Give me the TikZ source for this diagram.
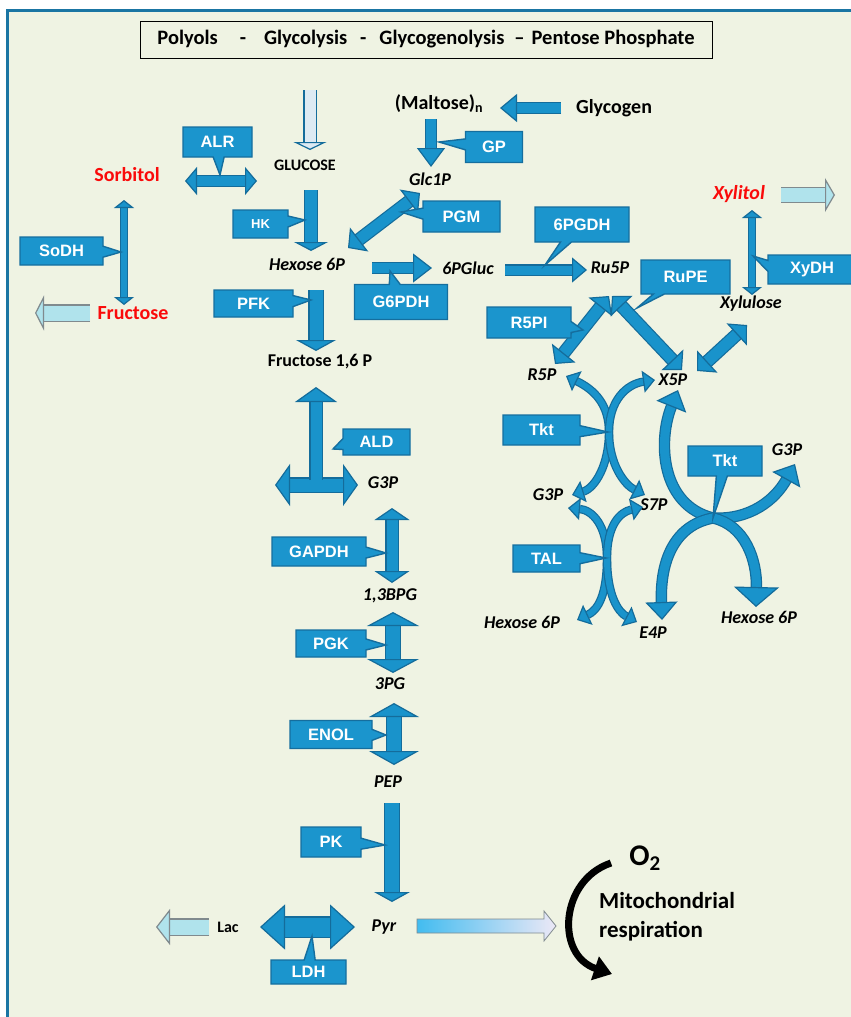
\documentclass[tikz,border=0pt]{standalone}
\usepackage{fontspec}
\setmainfont{Carlito}
\newfontfamily\arialfont{Liberation Sans}
\usetikzlibrary{shapes.callouts}
\usetikzlibrary{arrows.meta}
\usetikzlibrary{calc}
\definecolor{bgpanel}{RGB}{239,243,227}
\definecolor{framec}{RGB}{26,117,163}
\definecolor{arrowfill}{RGB}{25,147,203}
\definecolor{arrowedge}{RGB}{20,108,155}
\definecolor{boxfill}{RGB}{27,149,205}
\definecolor{boxedge}{RGB}{21,110,158}
\definecolor{polyred}{RGB}{250,10,10}
\definecolor{inputfill}{RGB}{221,234,243}
\definecolor{outfill}{RGB}{176,227,236}
\definecolor{outedge}{RGB}{128,138,142}
\definecolor{gradl}{RGB}{66,188,240}
\definecolor{gradr}{RGB}{236,232,246}

\begin{document}
\begin{tikzpicture}[x=1pt, y=-1pt,
  met/.style={font=\fontsize{18}{20}\selectfont\bfseries\itshape, inner sep=1pt},
  sugar/.style={font=\fontsize{20}{22}\selectfont\bfseries, inner sep=1pt},
  polyol/.style={sugar, text=polyred},
  enz/.style={rectangle callout, draw=boxedge, fill=boxfill, line width=1.4pt, text=white,
    font=\arialfont\bfseries\fontsize{16.5}{18}\selectfont, inner sep=0pt, callout pointer width=11pt},
  barrow/.style n args={5}{draw=#4, double=#5, line width=1.2pt, double distance=#1,
    -{Triangle[width=#2, length=#3, fill=#5, color=#4, line width=1.2pt]}},
  bbarrow/.style n args={5}{draw=#4, double=#5, line width=1.2pt, double distance=#1,
    {Triangle[width=#2, length=#3, fill=#5, color=#4, line width=1.2pt]}-{Triangle[width=#2, length=#3, fill=#5, color=#4, line width=1.2pt]}},
  blk/.style n args={3}{barrow={#1}{#2}{#3}{arrowedge}{arrowfill}},
  dblk/.style n args={3}{bbarrow={#1}{#2}{#3}{arrowedge}{arrowfill}},
  outarr/.style n args={3}{barrow={#1}{#2}{#3}{outedge}{outfill}},
  crv/.style={blk={6pt}{22pt}{12pt}},
  bigcrv/.style={blk={9pt}{32pt}{18pt}}
  ]
  \useasboundingbox (0,0) rectangle (851,1017);
  % panel
  \fill[white] (0,0) rectangle (851,1017);
  \fill[bgpanel] (7.5,10.5) rectangle (851,1017);
  \draw[framec, line width=3pt] (7.5,1017) -- (7.5,10.5) -- (851,10.5);
  \node[draw, line width=1pt, minimum width=572pt, minimum height=37pt, inner sep=0pt,
    font=\fontsize{20.5}{22}\selectfont\bfseries] (title) at (426,39.5)
    {Polyols\hspace{22pt}-\hspace{18pt}Glycolysis\hspace{13pt}-\hspace{13pt}Glycogenolysis\hspace{10pt}--\hspace{7pt}Pentose Phosphate};

  % metabolites
  \node[font=\fontsize{16}{18}\selectfont\bfseries, inner sep=1pt] (glucose) at (305,165) {GLUCOSE};
  \node[met] (hexa) at (307,264) {Hexose 6P};
  \node[met] (glcp) at (430,179) {Glc1P};
  \node[sugar] (maltose) at (439,104) {(Maltose)\textsubscript{n}};
  \node[sugar] (glycogen) at (614,108) {Glycogen};
  \node[met] (gluc) at (468,268) {6PGluc};
  \node[met] (ru5p) at (610,268) {Ru5P};
  \node[polyol] (sorbitol) at (127,175) {Sorbitol};
  \node[polyol] (fructose) at (133,313) {Fructose};
  \node[polyol, font=\fontsize{20}{22}\selectfont\bfseries\itshape] (xylitol) at (739,194) {Xylitol};
  \node[met] (xylulose) at (751,304) {Xylulose};
  \node[met] (r5p) at (542,375) {R5P};
  \node[met] (x5p) at (673,380) {X5P};
  \node[met] (g3pa) at (548,495) {G3P};
  \node[met] (s7p) at (654,505) {S7P};
  \node[met] (hexb) at (522,622) {Hexose 6P};
  \node[met] (e4p) at (653,633) {E4P};
  \node[met] (g3pb) at (787,450) {G3P};
  \node[met] (hexc) at (759,617) {Hexose 6P};
  \node[font=\fontsize{18}{20}\selectfont\bfseries, inner sep=1pt] (fbp) at (320,362) {Fructose 1,6 P};
  \node[met] (g3p) at (383,483) {G3P};
  \node[met] (bpg) at (390,596) {1,3BPG};
  \node[met] (pg3) at (390,684) {3PG};
  \node[met] (pep) at (388,782) {PEP};
  \node[met] (pyr) at (384,927) {Pyr};
  \node[font=\fontsize{16}{18}\selectfont\bfseries, inner sep=1pt] (lac) at (228,927) {Lac};
  \node[font=\fontsize{30}{32}\selectfont\bfseries, inner sep=1pt] (o2) at (645,858) {O\textsubscript{2}};
  \node[font=\fontsize{23}{29}\selectfont\bfseries, anchor=west, align=left, inner sep=0pt] (mito) at (599,917) {Mitochondrial\\respiration};

  % centres of the transketolase / transaldolase crossings
  \coordinate (tktl) at (609,432);
  \coordinate (talc) at (607,558);
  \coordinate (tktr) at (713,518);

  % upper part
  \draw[barrow={11pt}{33pt}{8pt}{arrowedge}{inputfill}] ($(glucose)+(5,-75)$) -- ($(glucose)+(5,-15)$);
  \draw[dblk={10pt}{28pt}{12pt}] ($(sorbitol)+(58,6)$) -- ($(glucose)+(-48,16)$);
  \draw[dblk={6pt}{20pt}{8pt}] ($(sorbitol)+(-3,25)$) -- ($(fructose)+(-9,-8)$);
  \draw[outarr={15pt}{35pt}{9pt}] ($(fructose)+(-43,0)$) -- ($(fructose)+(-98,0)$);
  \draw[blk={12pt}{34pt}{9pt}] ($(glucose)+(6,25)$) -- ($(hexa)+(4,-13)$);
  \draw[dblk={11pt}{30pt}{14pt}] ($(hexa)+(41,-16)$) -- ($(glcp)+(-10,14)$);
  \draw[blk={10pt}{28pt}{19pt}] ($(maltose)+(-8,15)$) -- ($(glcp)+(1,-12)$);
  \draw[blk={10pt}{28pt}{17pt}] ($(glycogen)+(-53,0)$) -- ($(maltose)+(61,4)$);
  \draw[blk={10pt}{29pt}{19pt}] ($(hexa)+(65,4)$) -- ($(gluc)+(-36,0)$);
  \draw[blk={9pt}{25pt}{15pt}] ($(gluc)+(37,2)$) -- ($(ru5p)+(-23,2)$);
  \draw[dblk={6pt}{20pt}{8pt}] ($(xylitol)+(13,16)$) -- ($(xylulose)+(1,-9)$);
  \draw[outarr={14pt}{34pt}{10pt}] ($(xylitol)+(42,1)$) -- ($(xylitol)+(96,1)$);
  \draw[dblk={11pt}{30pt}{14pt}] ($(ru5p)+(-1,28)$) -- ($(r5p)+(13,-11)$);
  \draw[dblk={11pt}{30pt}{14pt}] ($(ru5p)+(2,28)$) -- ($(x5p)+(9,-10)$);
  \draw[dblk={11pt}{30pt}{14pt}] ($(xylulose)+(-4,21)$) -- ($(x5p)+(24,-9)$);

  % pentose phosphate crossings
  \draw[crv] (tktl) .. controls +(0,-27) and +(29,14) .. ($(r5p)+(24,1)$);
  \draw[crv] (tktl) .. controls +(0,-32) and +(-28,4) .. ($(x5p)+(-18,0)$);
  \draw[crv] (tktl) .. controls +(0,33) and +(23,-7) .. ($(g3pa)+(24,0)$);
  \draw[crv] (tktl) .. controls +(0,33) and +(-20,-10) .. ($(s7p)+(-9,-10)$);
  \draw[crv] (talc) .. controls +(0,-33) and +(24,2) .. ($(g3pa)+(20,13)$);
  \draw[crv] (talc) .. controls +(0,-33) and +(-23,5) .. ($(s7p)+(-11,2)$);
  \draw[crv] (talc) .. controls +(0,37) and +(21,-10) .. ($(hexb)+(55,-2)$);
  \draw[crv] (talc) .. controls +(0,37) and +(-19,-10) .. ($(e4p)+(-16,-11)$);
  \draw[bigcrv] (tktr) .. controls +(-53,-13) and +(-20,50) .. ($(x5p)+(5,10)$);
  \draw[bigcrv] (tktr) .. controls +(37,2) and +(-20,36) .. ($(g3pb)+(8,14)$);
  \draw[bigcrv] (tktr) .. controls +(-38,7) and +(-2,-60) .. ($(e4p)+(9,-13)$);
  \draw[blk={9pt}{45pt}{20pt}] (tktr) .. controls +(32,7) and +(1,-47) .. ($(hexc)+(-3,-10)$);

  % glycolysis
  \draw[blk={13pt}{40pt}{11pt}] ($(hexa)+(9,26)$) -- ($(fbp)+(-4,-11)$);
  \draw[dblk={13pt}{42pt}{15pt}] ($(g3p)+(-108,2)$) -- ($(g3p)+(-25,2)$);
  \draw[blk={11pt}{42pt}{15pt}] ($(g3p)+(-67,-3)$) -- ($(fbp)+(-4,25)$);
  \draw[dblk={11pt}{35pt}{12pt}] ($(g3p)+(9,25)$) -- ($(bpg)+(2,-13)$);
  \draw[dblk={14pt}{52pt}{14pt}] ($(bpg)+(3,16)$) -- ($(pg3)+(3,-11)$);
  \draw[dblk={14pt}{50pt}{14pt}] ($(pg3)+(4,19)$) -- ($(pep)+(6,-17)$);
  \draw[blk={14pt}{36pt}{10pt}] ($(pep)+(4,21)$) -- ($(pyr)+(8,-25)$);
  \draw[dblk={19pt}{45pt}{25pt}] ($(lac)+(32,0)$) -- ($(pyr)+(-29,0)$);
  \draw[outarr={15pt}{36pt}{14pt}] ($(lac)+(-19,0)$) -- ($(lac)+(-72,0)$);
  \shade[left color=gradl, right color=gradr, draw=outedge, line width=0.8pt]
    ($(pyr)+(33,-8)$) -- ++(127,0) -- ++(0,-8) -- ++(12,15) -- ++(-12,15) -- ++(0,-8) -- ++(-127,0) -- cycle;
  \draw[line width=7pt, -{Triangle[width=24pt, length=18pt]}]
    ($(o2)+(-34,5)$) .. controls +(-51,17) and +(-57,-19) .. ($(mito.west)+(13,57)$);

  % enzymes
  \node[enz, minimum width=69pt, minimum height=30pt, callout absolute pointer={(220,175)}] (alr) at (217.5,142) {ALR};
  \node[enz, minimum width=83pt, minimum height=28pt, callout absolute pointer={(121,252)}] (sodh) at (61.5,251) {SoDH};
  \node[enz, minimum width=55pt, minimum height=28pt, callout absolute pointer={(305,220)},
    font=\arialfont\bfseries\fontsize{13}{15}\selectfont] (hk) at (260.5,224) {HK};
  \node[enz, minimum width=57pt, minimum height=31pt, callout absolute pointer={(439,142)}] (gp) at (494,147) {GP};
  \node[enz, minimum width=77pt, minimum height=31pt, callout absolute pointer={(401,212)}] (pgm) at (461.5,216.5) {PGM};
  \node[enz, minimum width=93pt, minimum height=35pt, callout absolute pointer={(390,271)}] (g6pdh) at (401,302) {G6PDH};
  \node[enz, minimum width=94pt, minimum height=35pt, callout absolute pointer={(545,265)}] (pgdh) at (582,224.5) {6PGDH};
  \node[enz, minimum width=89pt, minimum height=34pt, callout absolute pointer={(637,308)}] (rupe) at (685.5,277) {RuPE};
  \node[enz, minimum width=84pt, minimum height=31pt, callout absolute pointer={(583,330)}] (rpi) at (529,322.5) {R5PI};
  \node[enz, minimum width=88pt, minimum height=29pt, callout absolute pointer={(753,256)}] (xydh) at (812,269.5) {XyDH};
  \node[enz, minimum width=77pt, minimum height=30pt, callout absolute pointer={(608,432)}] (tkta) at (541.5,430) {Tkt};
  \node[enz, minimum width=67pt, minimum height=27pt, callout absolute pointer={(606,558)}] (tal) at (546.5,558.5) {TAL};
  \node[enz, minimum width=74pt, minimum height=30pt, callout absolute pointer={(713,518)}] (tktb) at (725,461) {Tkt};
  \node[enz, minimum width=79pt, minimum height=27pt, callout absolute pointer={(311,300)}] (pfk) at (253.5,303.5) {PFK};
  \node[enz, minimum width=67pt, minimum height=26pt, callout absolute pointer={(333,449)}] (ald) at (376.5,442) {ALD};
  \node[enz, minimum width=94pt, minimum height=29pt, callout absolute pointer={(386,553)}] (gapdh) at (319,551.5) {GAPDH};
  \node[enz, minimum width=70pt, minimum height=27pt, callout absolute pointer={(386,645)}] (pgk) at (331,643.5) {PGK};
  \node[enz, minimum width=82pt, minimum height=28pt, callout absolute pointer={(386,735)}] (enol) at (331,734.5) {ENOL};
  \node[enz, minimum width=60pt, minimum height=30pt, callout absolute pointer={(385,845)}] (pk) at (331,842) {PK};
  \node[enz, minimum width=75pt, minimum height=24pt, callout absolute pointer={(312,936)}] (ldh) at (308.5,972) {LDH};
\end{tikzpicture}
\end{document}
